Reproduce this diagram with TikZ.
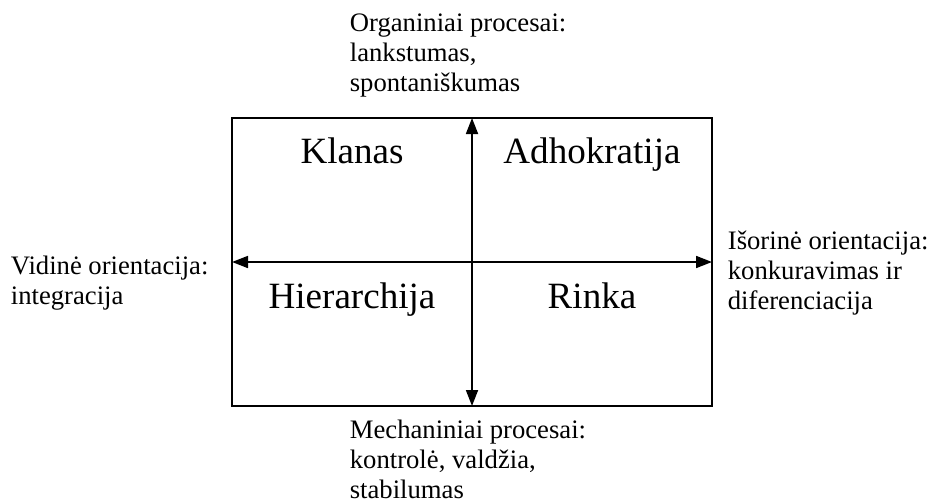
\documentclass[tikz,border=0pt]{standalone}
\usepackage{fontspec}
\setmainfont{Liberation Serif}
\usetikzlibrary{arrows.meta, positioning}

\begin{document}
\begin{tikzpicture}[x=0.75pt, y=-0.75pt, >={Triangle[length=12pt, width=9pt]}, line width=1.3pt,
  kvadrantas/.style={font=\fontsize{27.8}{32}\selectfont, anchor=base},
  kryptis/.style={font=\fontsize{20}{22.5}\selectfont, align=left, anchor=north west, inner sep=0pt}]
  \useasboundingbox (0,0) rectangle (931,503);

  % Remas
  \coordinate (nw) at (232,118);
  \coordinate (se) at (712,406);
  \draw (nw) rectangle (se);

  % Asys
  \coordinate (virsus) at (472,118);
  \coordinate (apacia) at (472,406);
  \coordinate (kaire) at (232,262);
  \coordinate (desine) at (712,262);
  \draw[<->] (kaire) -- (desine);
  \draw[<->] (virsus) -- (apacia);

  % Kultūros tipai
  \node[kvadrantas] (klanas) at (352,163) {Klanas};
  \node[kvadrantas] (adhokratija) at (592,163) {Adhokratija};
  \node[kvadrantas] (hierarchija) at (352,308) {Hierarchija};
  \node[kvadrantas] (rinka) at (592,308) {Rinka};

  % Dimensijos
  \node[kryptis] (organiniai) at (349,13) {Organiniai procesai:\\lankstumas,\\spontaniškumas};
  \node[kryptis] (mechaniniai) at (349,419) {Mechaniniai procesai:\\kontrolė, valdžia,\\stabilumas};
  \node[kryptis] (vidine) at (10,255) {Vidinė orientacija:\\integracija};
  \node[kryptis] (isorine) at (727,230) {Išorinė orientacija:\\konkuravimas ir\\diferenciacija};
\end{tikzpicture}
\end{document}
